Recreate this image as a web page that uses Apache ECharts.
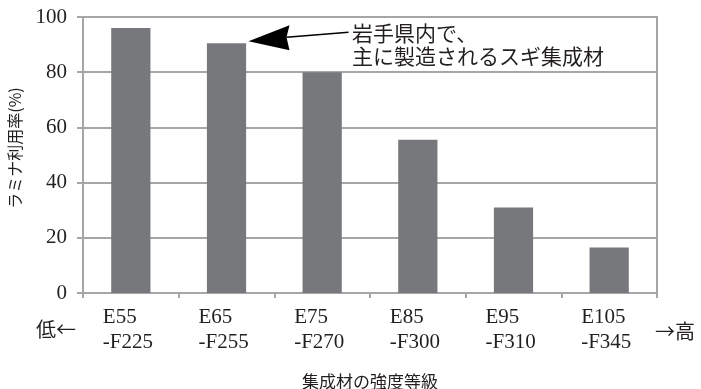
<!DOCTYPE html>
<html lang="ja">
<head>
    <meta charset="UTF-8">
    <title>ラミナ利用率</title>
    <script src="https://cdn.jsdelivr.net/npm/echarts@6/dist/echarts.min.js"></script>
    <style>
        html, body { margin: 0; padding: 0; background: #fff; }
        #chart { width: 701px; height: 389px; }
    </style>
</head>
<body>
    <div id="chart"></div>
    <script>
        // 強度等級（上段・下段）
        const eGrades = ['E55', 'E65', 'E75', 'E85', 'E95', 'E105'];
        const fGrades = ['-F225', '-F255', '-F270', '-F300', '-F310', '-F345'];
        // ラミナ利用率(%)
        const usageRate = [96, 90.5, 80, 55.5, 31, 16.5];
        const yTicks = { min: 0, max: 100, interval: 20 };

        const categories = eGrades.map((e, i) => e + '\n' + fGrades[i]);

        const gridColor = '#a6a6a6';
        const textColor = '#231f20';
        const serif = '"Liberation Serif", "DejaVu Serif", serif';
        const jp = '"Noto Sans CJK JP", sans-serif';

        const chart = echarts.init(document.getElementById('chart'));

        const option = {
            animation: false,
            grid: {
                left: 83, right: 44, top: 17, bottom: 96,
                outerBoundsMode: 'none',
                containLabel: false,
                show: true, borderColor: gridColor, borderWidth: 2
            },
            xAxis: {
                type: 'category',
                data: categories,
                name: '集成材の強度等級',
                nameLocation: 'middle',
                nameGap: 80,
                nameTextStyle: { fontFamily: jp, fontSize: 17, color: textColor },
                axisLine: { lineStyle: { color: gridColor, width: 2 } },
                axisTick: { show: true, length: 5, lineStyle: { color: gridColor, width: 2 } },
                axisLabel: {
                    margin: 12,
                    formatter: v => v.split('\n').map(s => '{a|' + s + '}').join('\n'),
                    rich: {
                        a: { fontFamily: serif, fontSize: 21, color: textColor, width: 56, align: 'left', lineHeight: 25 }
                    }
                }
            },
            yAxis: {
                type: 'value',
                min: yTicks.min, max: yTicks.max, interval: yTicks.interval,
                name: 'ラミナ利用率(%)',
                nameLocation: 'middle',
                nameGap: 60,
                nameTextStyle: { fontFamily: jp, fontSize: 16, color: textColor, padding: [0, 0, 0, 14] },
                axisLine: { show: true, lineStyle: { color: gridColor, width: 2 } },
                axisTick: { show: true, length: 6, lineStyle: { color: gridColor, width: 2 } },
                axisLabel: { margin: 16, fontFamily: serif, fontSize: 21, color: textColor },
                splitLine: { lineStyle: { color: gridColor, width: 2 } }
            },
            series: [{
                type: 'bar',
                data: usageRate,
                barWidth: '41%',
                itemStyle: { color: '#77787c' }
            }]
        };
        chart.setOption(option);

        // 注釈の矢印（E65 の棒の右上を指す）
        const tipPt = chart.convertToPixel({ seriesIndex: 0 }, [1, usageRate[1]]);
        const tipX = tipPt[0] + 22;
        const tipY = tipPt[1] - 2;

        chart.setOption({
            graphic: [
                {
                    type: 'polygon',
                    shape: { points: [[tipX, tipY], [tipX + 41, tipY - 16], [tipX + 38, tipY - 4], [tipX + 41, tipY + 9]] },
                    style: { fill: '#000' }
                },
                {
                    type: 'line',
                    shape: { x1: tipX + 38, y1: tipY - 4, x2: tipX + 100, y2: tipY - 9 },
                    style: { stroke: '#000', lineWidth: 1.5 }
                },
                {
                    type: 'text',
                    left: 352, top: 22,
                    style: {
                        text: '岩手県内で、\n主に製造されるスギ集成材',
                        font: '21px ' + jp, fill: textColor, lineHeight: 23
                    }
                },
                {
                    type: 'text',
                    left: 36, top: 319,
                    style: { text: '低←', font: '20px ' + jp, fill: textColor }
                },
                {
                    type: 'text',
                    left: 655, top: 321,
                    style: { text: '→高', font: '20px ' + jp, fill: textColor }
                }
            ]
        });
    </script>
</body>
</html>
